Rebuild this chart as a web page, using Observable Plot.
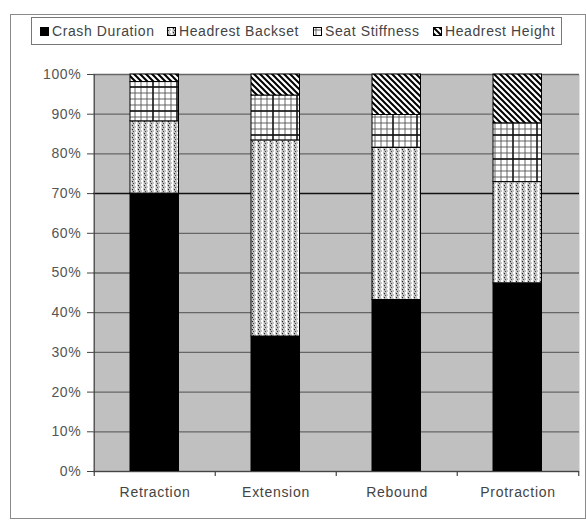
<!DOCTYPE html>
<html>
<head>
<meta charset="utf-8">
<script src="https://cdn.jsdelivr.net/npm/d3@7"></script>
<script src="https://cdn.jsdelivr.net/npm/@observablehq/plot@0.6"></script>
<style>
  body { margin: 0; background: white; font-family: "Liberation Sans", Arial, sans-serif; }
  #wrap { position: relative; width: 586px; height: 521px; }
  #border { position: absolute; left: 10px; top: 14px; width: 574px; height: 503px; border: 1px solid #8a8a8a; }
  #legend { position: absolute; left: 31px; top: 17px; width: 529px; height: 26px; border: 1px solid #777; background: white; }
  #legend .item { position: absolute; top: 0; height: 26px; display: flex; align-items: center; font-size: 14px; letter-spacing: 0.6px; color: #444; white-space: nowrap; }
  #legend svg { margin-right: 3px; }
  #chart { position: absolute; left: 0; top: 0; }
  #chart text { letter-spacing: 0.7px; }
</style>
</head>
<body>
<div id="wrap">
  <div id="border"></div>
  <div id="chart"></div>
  <div id="legend"></div>
</div>
<script>
// categorias y series (porcentajes)
const categories = ["Retraction", "Extension", "Rebound", "Protraction"]
const seriesNames = ["Crash Duration", "Headrest Backset", "Seat Stiffness", "Headrest Height"]
const crashDuration = [70, 34, 43.2, 47.4]
const headrestBackset = [18.2, 49.4, 38.3, 25.5]
const seatStiffness = [9.9, 11.3, 8.3, 14.8]
const headrestHeight = [1.9, 5.3, 10.2, 12.3]
const yTicks = [0, 10, 20, 30, 40, 50, 60, 70, 80, 90, 100]

const fills = ["black", "url(#backset)", "url(#stiffness)", "url(#height)"]
const legendLeft = [8, 135, 281, 401]

const values = [crashDuration, headrestBackset, seatStiffness, headrestHeight]
const data = []
seriesNames.forEach((s, j) => {
  categories.forEach((c, i) => data.push({cat: c, series: s, value: values[j][i]}))
})

const width = 586, height = 521
const mLeft = 93, mRight = 7, mTop = 74, mBottom = 50
const bw = (width - mLeft - mRight) / categories.length
const tickLen = 5 / ((height - mTop - mBottom) / 100)

let chart = Plot.plot({
  width, height,
  marginTop: mTop, marginBottom: mBottom, marginLeft: mLeft, marginRight: mRight,
  style: {fontFamily: "Liberation Sans, Arial, sans-serif", fontSize: "14px", background: "transparent", overflow: "visible"},
  x: {domain: categories, padding: 0, axis: null},
  y: {domain: [0, 100], axis: null},
  color: {type: "ordinal", domain: seriesNames, range: fills},
  marks: [
    Plot.frame({fill: "#c0c0c0", stroke: null}),
    Plot.ruleY(yTicks.filter(d => d !== 70), {stroke: "#666", strokeWidth: 1.3}),
    Plot.ruleY(yTicks.filter(d => d === 70), {stroke: "#111", strokeWidth: 1.5}),
    Plot.barY(data, Plot.stackY({
      x: "cat", y: "value", fill: "series",
      stroke: "black", strokeWidth: 1,
      insetLeft: 36, insetRight: 36.5
    })),
    Plot.ruleY([0], {stroke: "#444", strokeWidth: 1.2}),
    // eje izquierdo y marcas entre categorias
    Plot.ruleX(categories, {x: d => d, y1: -tickLen, y2: (d, i) => i === 0 ? 100 : 0, dx: -bw / 2, stroke: "#444", strokeWidth: 1.2}),
    Plot.ruleX(categories.slice(-1), {x: d => d, y1: -tickLen, y2: 0, dx: bw / 2, stroke: "#444", strokeWidth: 1.2}),
    Plot.axisY(yTicks, {tickFormat: d => d + "%", tickSize: 6, tickPadding: 6, stroke: "#444", fill: "#555", label: null}),
    Plot.axisX({tickSize: 0, tickPadding: 16, fill: "#444", label: null})
  ]
})

// patrones de relleno
d3.select(chart).insert("defs", ":first-child").html(`
  <pattern id="backset" width="6" height="4" patternUnits="userSpaceOnUse">
    <rect width="6" height="4" fill="#c4c4c4"/>
    <rect x="3" y="0" width="2" height="2" fill="white"/>
    <rect x="4" y="2" width="1.5" height="2" fill="white"/>
    <rect x="0" y="1" width="1" height="1.2" fill="#222"/>
    <rect x="1" y="3" width="1" height="1" fill="#444"/>
  </pattern>
  <pattern id="stiffness" width="24" height="24" patternUnits="userSpaceOnUse">
    <rect width="24" height="24" fill="white"/>
    <path d="M3,0V24M9,0V24M15,0V24M21,0V24M0,3H24M0,9H24M0,15H24M0,21H24" stroke="#555" stroke-width="0.9"/>
    <path d="M9,0V24M0,15H24" stroke="#111" stroke-width="1.4"/>
  </pattern>
  <pattern id="height" width="6" height="6" patternUnits="userSpaceOnUse">
    <rect width="6" height="6" fill="white"/>
    <path d="M0,0L6,6M-3,3L3,9M3,-3L9,3" stroke="black" stroke-width="2"/>
  </pattern>
`)

d3.select('#chart').append(() => chart)

// leyenda
const legend = d3.select('#legend')
seriesNames.forEach((s, j) => {
  const item = legend.append('div').attr('class', 'item').style('left', legendLeft[j] + 'px')
  const sw = item.append('svg').attr('width', 9).attr('height', 9)
  sw.append('rect').attr('x', 0.5).attr('y', 0.5).attr('width', 8).attr('height', 8)
    .attr('fill', fills[j]).attr('stroke', 'black')
  item.append('span').text(s)
})
</script>
</body>
</html>
